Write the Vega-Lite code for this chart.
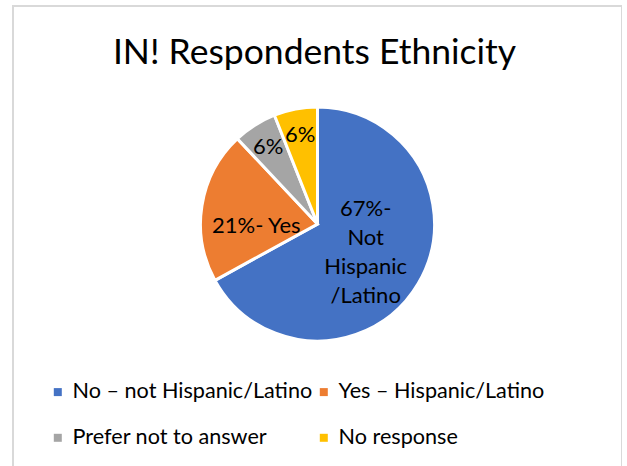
{
  "$schema": "https://vega.github.io/schema/vega-lite/v6.json",
  "autosize": {"type": "none"},
  "padding": {"left": 13, "top": 6, "right": 0, "bottom": 0},
  "width": 609,
  "height": 462,
  "background": "white",
  "view": {"stroke": "#d9d9d9", "strokeWidth": 2, "fill": "white"},
  "config": {
    "font": "Lato"
  },
  "title": {
    "text": "IN! Respondents Ethnicity",
    "font": "Lato",
    "fontSize": 35.5,
    "fontWeight": "normal",
    "color": "#000000",
    "anchor": "middle",
    "dx": -3,
    "offset": -65
  },
  "data": {
    "values": [
      {"cat": "No – not Hispanic/Latino", "pct": 67, "i": 1, "label": "67%-\nNot\nHispanic\n/Latino"},
      {"cat": "Yes – Hispanic/Latino", "pct": 21, "i": 2, "label": "21%- Yes"},
      {"cat": "Prefer not to answer", "pct": 6, "i": 3, "label": "6%"},
      {"cat": "No response", "pct": 6, "i": 4, "label": "6%"}
    ]
  },
  "encoding": {
    "theta": {"field": "pct", "type": "quantitative", "stack": true},
    "order": {"field": "i", "type": "quantitative"}
  },
  "layer": [
    {
      "mark": {"type": "arc", "outerRadius": 117, "stroke": "white", "strokeWidth": 3, "yOffset": -13},
      "encoding": {
        "color": {
          "field": "cat",
          "type": "nominal",
          "sort": ["No – not Hispanic/Latino", "Yes – Hispanic/Latino", "Prefer not to answer", "No response"],
          "scale": {
            "domain": ["No – not Hispanic/Latino", "Yes – Hispanic/Latino", "Prefer not to answer", "No response"],
            "range": ["#4472C4", "#ED7D31", "#A5A5A5", "#FFC000"]
          },
          "legend": {
            "title": null,
            "orient": "none",
            "legendX": 34,
            "legendY": 375,
            "direction": "horizontal",
            "columns": 2,
            "columnPadding": 0,
            "rowPadding": 23,
            "symbolType": "square",
            "symbolSize": 64,
            "symbolStrokeWidth": 0,
            "labelFont": "Lato",
            "labelFontSize": 21.6,
            "labelColor": "#000000",
            "labelOffset": 4,
            "labelLimit": 400
          }
        }
      }
    },
    {
      "mark": {"type": "text", "radius": 56, "yOffset": -57, "fontSize": 22, "lineBreak": "\n", "lineHeight": 29, "color": "#000000", "font": "Lato"},
      "encoding": {
        "text": {"condition": {"test": "datum.i === 1", "field": "label"}, "value": ""}
      }
    },
    {
      "mark": {"type": "text", "radius": 62, "yOffset": -1, "fontSize": 22, "color": "#000000", "font": "Lato"},
      "encoding": {
        "text": {"condition": {"test": "datum.i === 2", "field": "label"}, "value": ""}
      }
    },
    {
      "mark": {"type": "text", "radius": 92, "yOffset": -12, "fontSize": 22, "color": "#000000", "font": "Lato"},
      "encoding": {
        "text": {"condition": {"test": "datum.i >= 3", "field": "label"}, "value": ""}
      }
    }
  ]
}
